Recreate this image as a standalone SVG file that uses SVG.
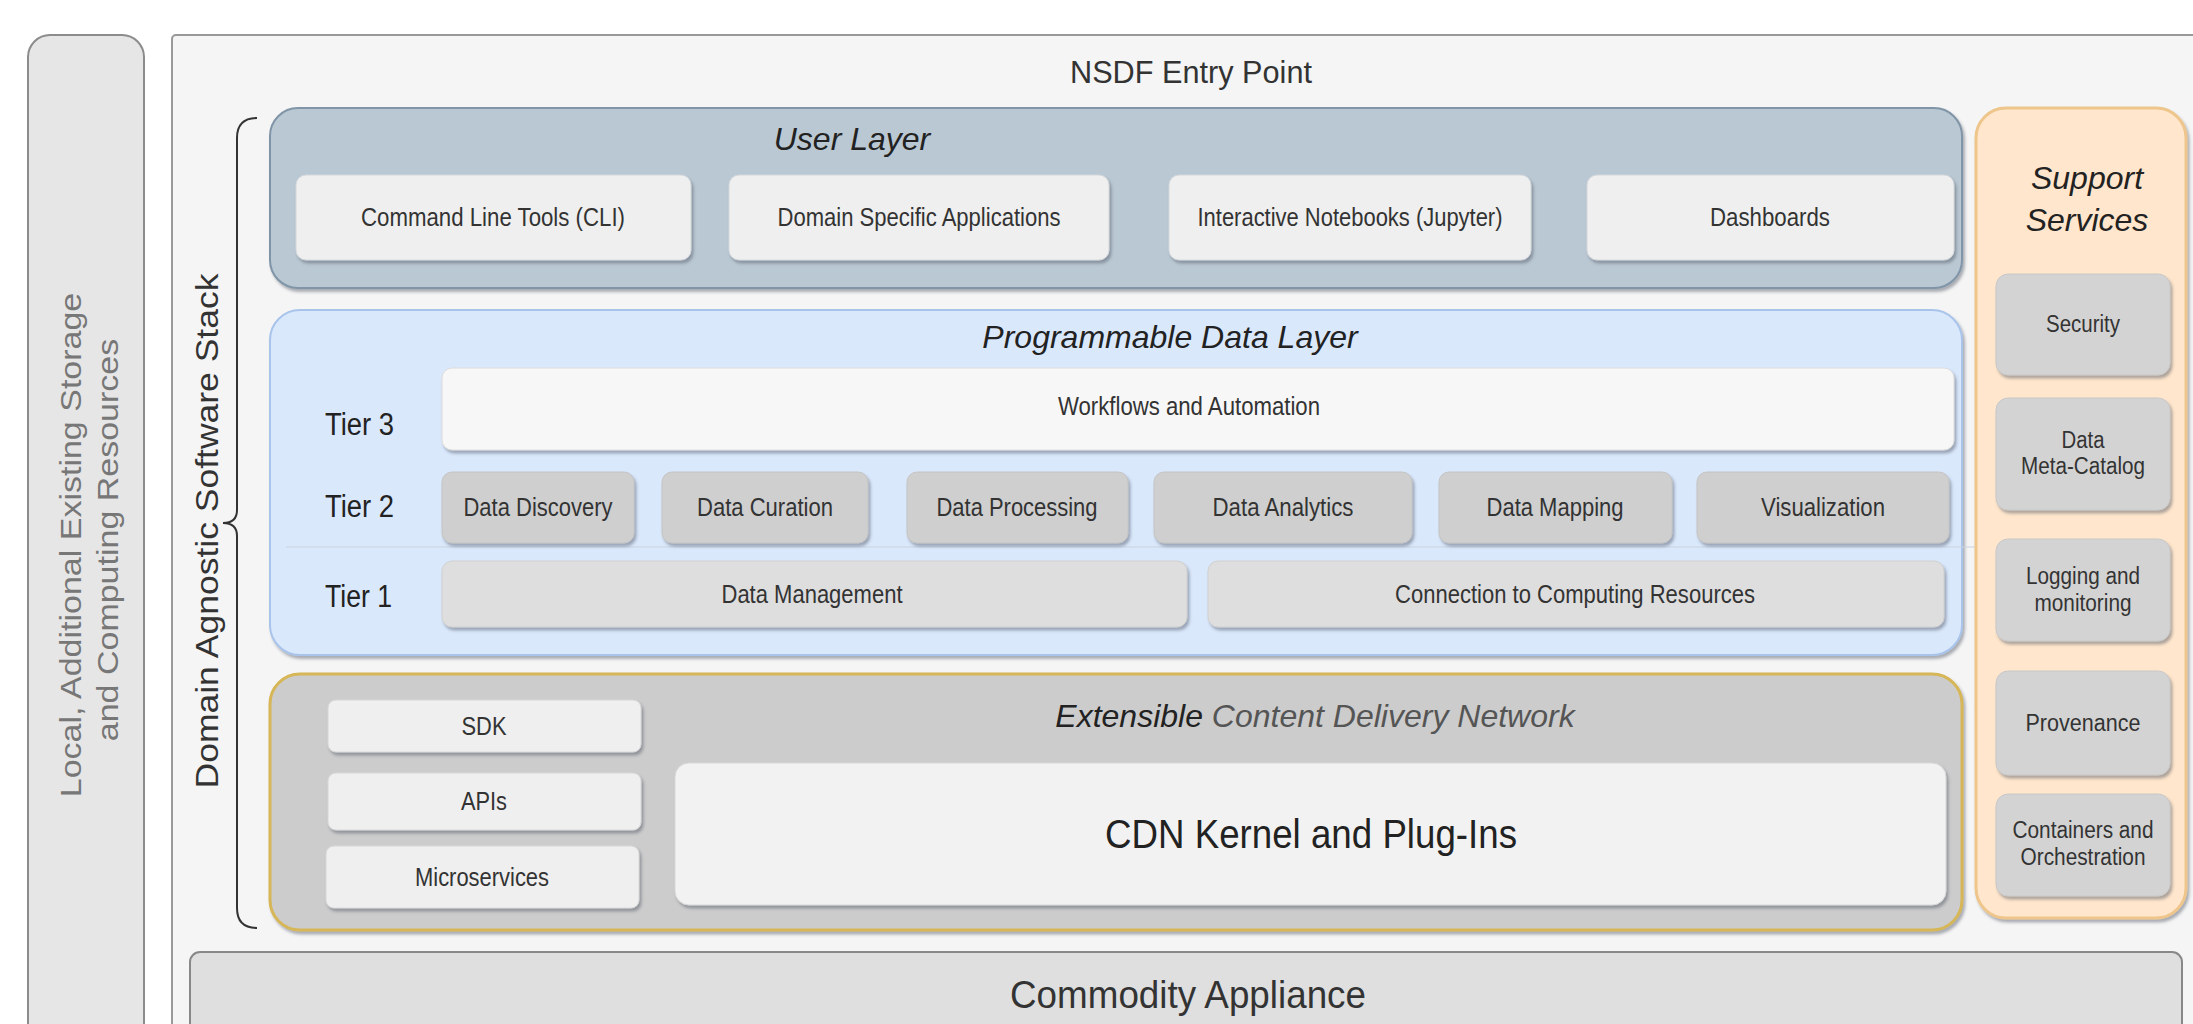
<svg xmlns="http://www.w3.org/2000/svg" width="2193" height="1024" viewBox="0 0 2193 1024">
<defs>
<filter id="sh" x="-10%" y="-10%" width="120%" height="130%">
<feDropShadow dx="2" dy="3" stdDeviation="1.5" flood-color="#4a5560" flood-opacity="0.45"/>
</filter>
<style>
text{font-family:"Liberation Sans",Arial,Helvetica,sans-serif;fill:#333}
.lbl{font-size:25px;text-anchor:middle}
.sl{font-size:23px;text-anchor:middle}
.title{font-size:32px;font-style:italic;text-anchor:middle;fill:#222}
.tier{font-size:31px;fill:#222}
.ubox{fill:#efefef;stroke:#d4d8dc;stroke-width:1;filter:url(#sh)}
.t2{fill:#cfcfcf;stroke:#c4c4c4;stroke-width:1;filter:url(#sh)}
.t1{fill:#dedede;stroke:#d0d0d0;stroke-width:1;filter:url(#sh)}
.wbox{fill:#f7f7f7;stroke:#dcdcdc;stroke-width:1;filter:url(#sh)}
.cbox{fill:#efefef;stroke:#d8d8d8;stroke-width:1;filter:url(#sh)}
.sbox{fill:#d3d3d3;stroke:#c8c8c8;stroke-width:1;filter:url(#sh)}
</style>
</defs>

<g id="local-resources">
<rect x="28" y="35" width="116" height="1100" rx="22" fill="#e6e6e6" stroke="#8c8c8c" stroke-width="2"/>
<text transform="translate(81,545) rotate(-90) scale(1,0.88)" font-size="34" text-anchor="middle" style="fill:#777">Local, Additional Existing Storage</text>
<text transform="translate(118,540) rotate(-90) scale(1,0.88)" font-size="34" text-anchor="middle" style="fill:#777">and Computing Resources</text>
</g>

<g id="nsdf-entry-point">
<rect x="172" y="35" width="2100" height="1100" rx="4" fill="#f5f5f5" stroke="#999" stroke-width="2"/>
<text x="1191" y="83" font-size="32" text-anchor="middle" textLength="242" lengthAdjust="spacingAndGlyphs">NSDF Entry Point</text>
</g>

<g id="domain-agnostic-stack">
<path d="M257,118 Q237,118 237,138 L237,510 Q237,523 223,523 Q237,523 237,536 L237,908 Q237,928 257,928" fill="none" stroke="#333" stroke-width="2"/>
<text transform="translate(218,531) rotate(-90) scale(1,0.9)" font-size="35.5" text-anchor="middle">Domain Agnostic Software Stack</text>
</g>

<g id="user-layer">
<rect x="270" y="108" width="1692" height="180" rx="28" fill="#bac8d3" stroke="#8195a8" stroke-width="2" filter="url(#sh)"/>
<text class="title" x="852" y="150">User Layer</text>
</g>
<g id="cli"><rect class="ubox" x="296" y="175" width="395" height="85" rx="10"/><text class="lbl" x="493" y="226" textLength="264" lengthAdjust="spacingAndGlyphs">Command Line Tools (CLI)</text></g>
<g id="domain-apps"><rect class="ubox" x="729" y="175" width="380" height="85" rx="10"/><text class="lbl" x="919" y="226" textLength="283" lengthAdjust="spacingAndGlyphs">Domain Specific Applications</text></g>
<g id="notebooks"><rect class="ubox" x="1169" y="175" width="362" height="85" rx="10"/><text class="lbl" x="1350" y="226" textLength="305" lengthAdjust="spacingAndGlyphs">Interactive Notebooks (Jupyter)</text></g>
<g id="dashboards"><rect class="ubox" x="1587" y="175" width="367" height="85" rx="10"/><text class="lbl" x="1770" y="226" textLength="120" lengthAdjust="spacingAndGlyphs">Dashboards</text></g>

<g id="programmable-data-layer">
<rect x="270" y="310" width="1692" height="345" rx="30" fill="#dae8fc" stroke="#a9c4eb" stroke-width="2" filter="url(#sh)"/>
<text class="title" x="1170" y="348">Programmable Data Layer</text>
<line x1="286" y1="547" x2="1977" y2="547" stroke="#c9d3df" stroke-width="1"/>
<text class="tier" x="325" y="435" textLength="69" lengthAdjust="spacingAndGlyphs">Tier 3</text>
<text class="tier" x="325" y="517" textLength="69" lengthAdjust="spacingAndGlyphs">Tier 2</text>
<text class="tier" x="325" y="607" textLength="67" lengthAdjust="spacingAndGlyphs">Tier 1</text>
</g>
<g id="workflows"><rect class="wbox" x="442" y="368" width="1512" height="82" rx="10"/><text class="lbl" x="1189" y="415" textLength="262" lengthAdjust="spacingAndGlyphs">Workflows and Automation</text></g>
<g id="data-discovery"><rect class="t2" x="442" y="472" width="192" height="71" rx="10"/><text class="lbl" x="538" y="516" textLength="149" lengthAdjust="spacingAndGlyphs">Data Discovery</text></g>
<g id="data-curation"><rect class="t2" x="662" y="472" width="206" height="71" rx="10"/><text class="lbl" x="765" y="516" textLength="136" lengthAdjust="spacingAndGlyphs">Data Curation</text></g>
<g id="data-processing"><rect class="t2" x="907" y="472" width="221" height="71" rx="10"/><text class="lbl" x="1017" y="516" textLength="161" lengthAdjust="spacingAndGlyphs">Data Processing</text></g>
<g id="data-analytics"><rect class="t2" x="1154" y="472" width="258" height="71" rx="10"/><text class="lbl" x="1283" y="516" textLength="141" lengthAdjust="spacingAndGlyphs">Data Analytics</text></g>
<g id="data-mapping"><rect class="t2" x="1439" y="472" width="233" height="71" rx="10"/><text class="lbl" x="1555" y="516" textLength="137" lengthAdjust="spacingAndGlyphs">Data Mapping</text></g>
<g id="visualization"><rect class="t2" x="1697" y="472" width="252" height="71" rx="10"/><text class="lbl" x="1823" y="516" textLength="124" lengthAdjust="spacingAndGlyphs">Visualization</text></g>
<g id="data-management"><rect class="t1" x="442" y="561" width="745" height="66" rx="10"/><text class="lbl" x="812" y="603" textLength="181" lengthAdjust="spacingAndGlyphs">Data Management</text></g>
<g id="computing-connection"><rect class="t1" x="1208" y="561" width="736" height="66" rx="10"/><text class="lbl" x="1575" y="603" textLength="360" lengthAdjust="spacingAndGlyphs">Connection to Computing Resources</text></g>

<g id="cdn">
<rect x="270" y="674" width="1692" height="256" rx="30" fill="#cccccc" stroke="#d6b656" stroke-width="3" filter="url(#sh)"/>
<text class="title" x="1315" y="727"><tspan style="fill:#222">Extensible</tspan> <tspan style="fill:#555">Content Delivery Network</tspan></text>
</g>
<g id="sdk"><rect class="cbox" x="328" y="700" width="313" height="52" rx="8"/><text class="lbl" x="484" y="735" textLength="45" lengthAdjust="spacingAndGlyphs">SDK</text></g>
<g id="apis"><rect class="cbox" x="328" y="773" width="313" height="57" rx="8"/><text class="lbl" x="484" y="810" textLength="46" lengthAdjust="spacingAndGlyphs">APIs</text></g>
<g id="microservices"><rect class="cbox" x="326" y="846" width="313" height="62" rx="8"/><text class="lbl" x="482" y="886" textLength="134" lengthAdjust="spacingAndGlyphs">Microservices</text></g>
<g id="cdn-kernel"><rect class="cbox" x="675" y="763" width="1271" height="142" rx="14" style="fill:#f2f2f2"/><text x="1311" y="848" font-size="41" text-anchor="middle" textLength="412" lengthAdjust="spacingAndGlyphs" style="fill:#222">CDN Kernel and Plug-Ins</text></g>

<g id="support-services">
<rect x="1976" y="108" width="210" height="810" rx="30" fill="#ffe6cc" stroke="#eec58a" stroke-width="3" filter="url(#sh)"/>
<text class="title" x="2087" y="189">Support</text>
<text class="title" x="2087" y="231">Services</text>
</g>
<g id="security"><rect class="sbox" x="1996" y="274" width="174" height="101" rx="12"/><text class="sl" x="2083" y="332" textLength="74" lengthAdjust="spacingAndGlyphs">Security</text></g>
<g id="meta-catalog"><rect class="sbox" x="1996" y="398" width="174" height="112" rx="12"/><text class="sl" x="2083" y="448" textLength="43" lengthAdjust="spacingAndGlyphs">Data</text><text class="sl" x="2083" y="474" textLength="124" lengthAdjust="spacingAndGlyphs">Meta-Catalog</text></g>
<g id="logging"><rect class="sbox" x="1996" y="539" width="174" height="102" rx="12"/><text class="sl" x="2083" y="584" textLength="114" lengthAdjust="spacingAndGlyphs">Logging and</text><text class="sl" x="2083" y="611" textLength="97" lengthAdjust="spacingAndGlyphs">monitoring</text></g>
<g id="provenance"><rect class="sbox" x="1996" y="671" width="174" height="104" rx="12"/><text class="sl" x="2083" y="731" textLength="115" lengthAdjust="spacingAndGlyphs">Provenance</text></g>
<g id="containers"><rect class="sbox" x="1996" y="794" width="174" height="102" rx="12"/><text class="sl" x="2083" y="838" textLength="141" lengthAdjust="spacingAndGlyphs">Containers and</text><text class="sl" x="2083" y="865" textLength="125" lengthAdjust="spacingAndGlyphs">Orchestration</text></g>

<g id="commodity-appliance">
<rect x="190" y="952" width="1992" height="200" rx="10" fill="#dfdfdf" stroke="#888" stroke-width="2"/>
<text x="1188" y="1008" font-size="39" text-anchor="middle" textLength="356" lengthAdjust="spacingAndGlyphs">Commodity Appliance</text>
</g>

<g id="connectors"></g>
</svg>
